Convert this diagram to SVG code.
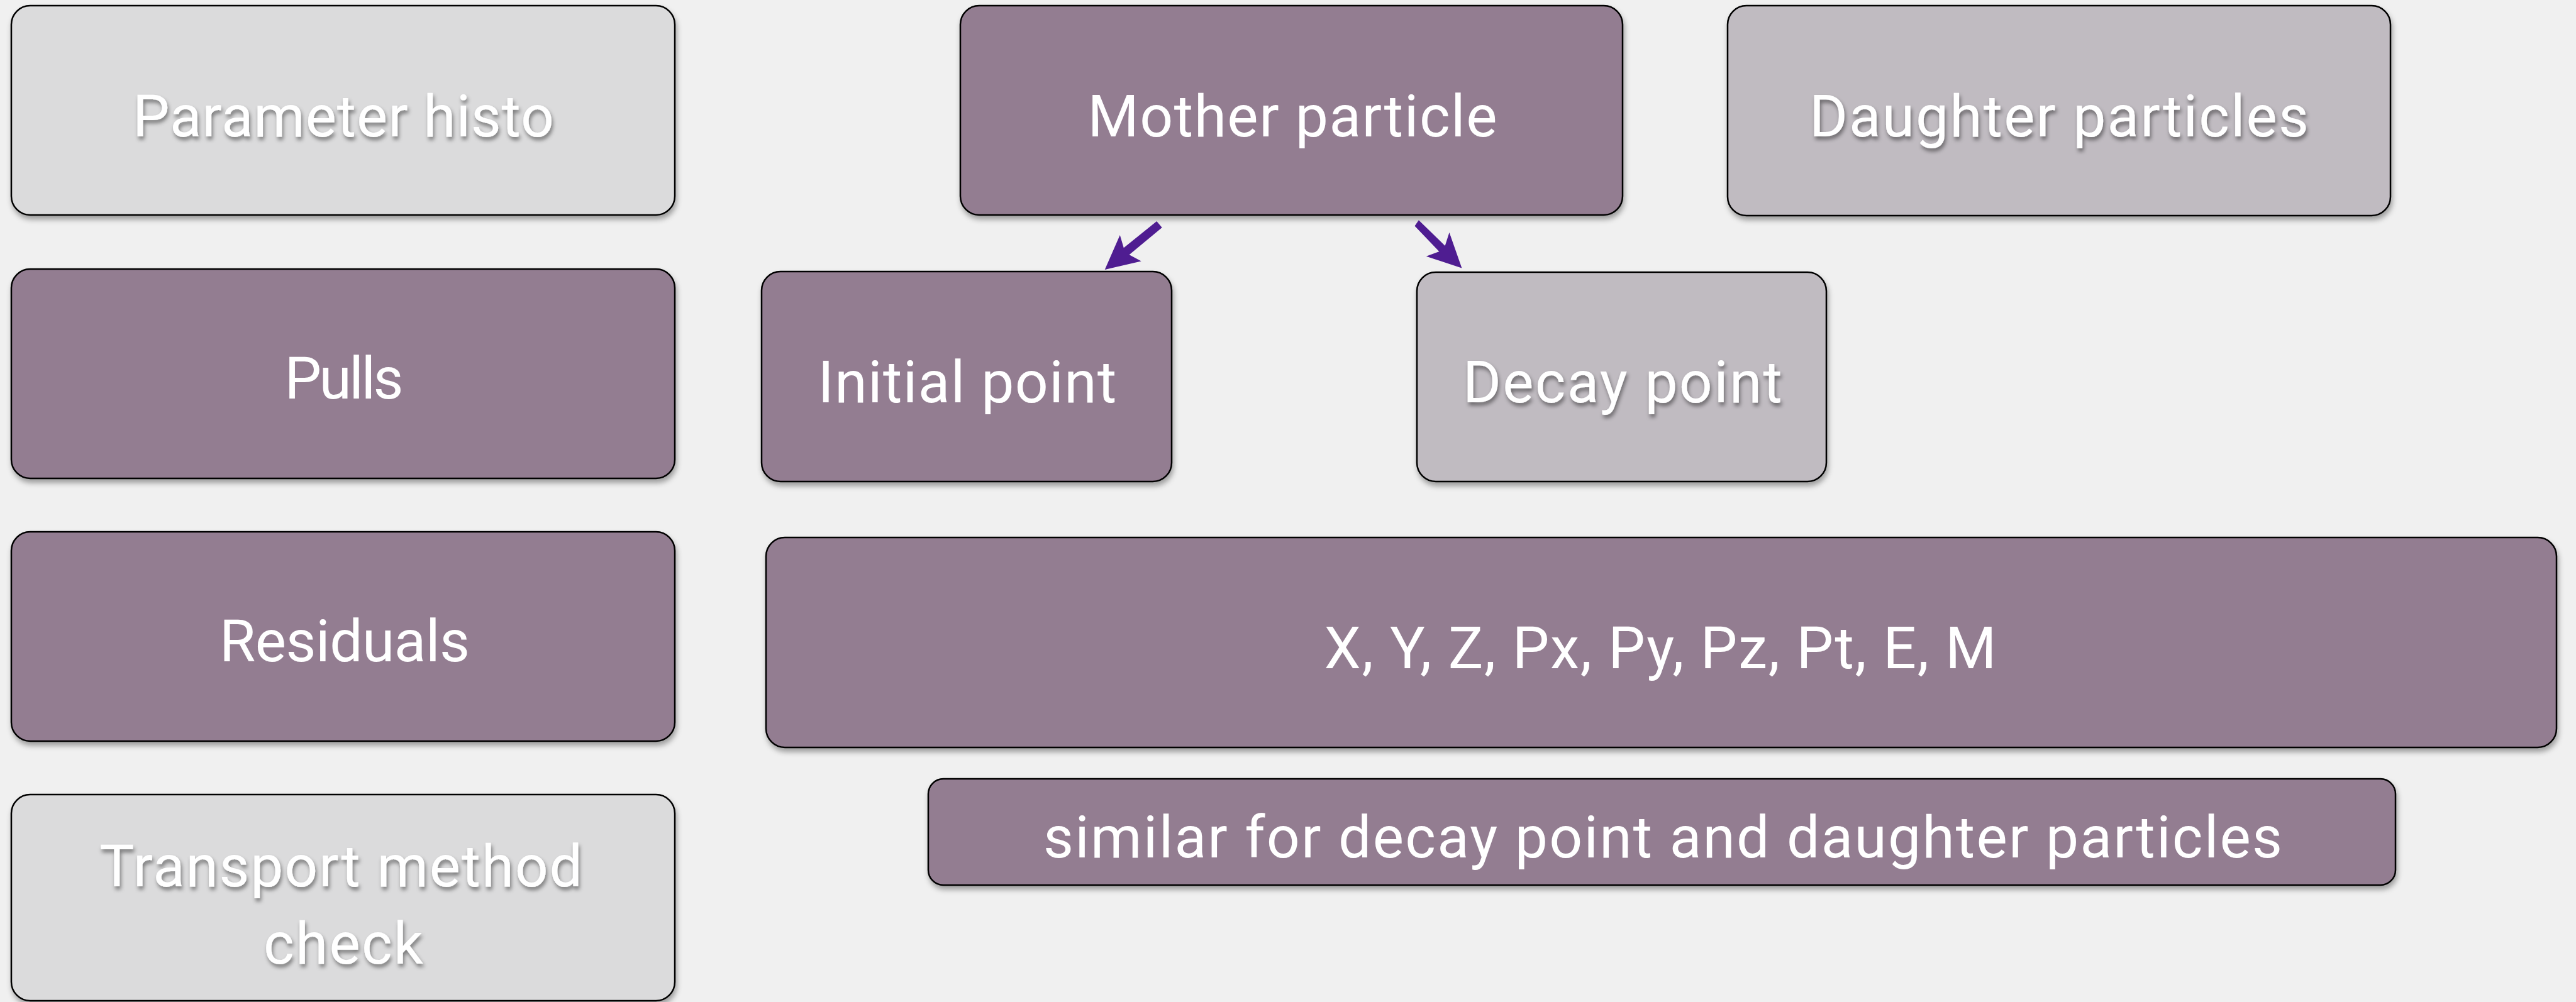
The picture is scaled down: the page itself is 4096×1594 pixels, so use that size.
<svg xmlns="http://www.w3.org/2000/svg" width="4096" height="1594" viewBox="0 0 4096 1594">
<defs>
<filter id="boxShadow" x="-5%" y="-10%" width="110%" height="125%">
<feDropShadow dx="2" dy="6" stdDeviation="4" flood-color="#000" flood-opacity="0.35"/>
</filter>
<filter id="textShadow" x="-5%" y="-20%" width="110%" height="150%">
<feDropShadow dx="2" dy="5" stdDeviation="3" flood-color="#000" flood-opacity="0.45"/>
</filter>
</defs>
<style>
.box{stroke:#000;stroke-width:2.5;filter:url(#boxShadow)}
.purple{fill:#937d91}
.light{fill:#dbdbdc}
.mid{fill:#c0bbc1}
.lbl{font-family:Roboto,"Liberation Sans",Arial,sans-serif;font-size:93px;fill:#fff;text-anchor:middle}
.sh{filter:url(#textShadow)}
.arrow{fill:#4f1d91}
</style>
<rect width="4096" height="1594" fill="#f0f0f0"/>

<g id="node-parameter-histo">
<rect class="box light" x="18" y="9" width="1055" height="333" rx="30" ry="30"/>
<text class="lbl sh" x="546" y="217" textLength="670" lengthAdjust="spacing">Parameter histo</text>
</g>
<g id="node-pulls">
<rect class="box purple" x="18" y="428" width="1055" height="333" rx="30" ry="30"/>
<text class="lbl" x="547" y="634" textLength="189" lengthAdjust="spacing">Pulls</text>
</g>
<g id="node-residuals">
<rect class="box purple" x="18" y="846" width="1055" height="333" rx="30" ry="30"/>
<text class="lbl" x="548" y="1052" textLength="398" lengthAdjust="spacing">Residuals</text>
</g>
<g id="node-transport">
<rect class="box light" x="18" y="1264" width="1055" height="328" rx="30" ry="30"/>
<text class="lbl sh" x="542" y="1410" textLength="768" lengthAdjust="spacing">Transport method</text>
<text class="lbl sh" x="546" y="1533" textLength="254" lengthAdjust="spacing">check</text>
</g>
<g id="node-mother">
<rect class="box purple" x="1527" y="9" width="1053" height="333" rx="30" ry="30"/>
<text class="lbl" x="2055" y="217" textLength="651" lengthAdjust="spacing">Mother particle</text>
</g>
<g id="node-daughter">
<rect class="box mid" x="2747" y="9" width="1054" height="334" rx="30" ry="30"/>
<text class="lbl sh" x="3274" y="217" textLength="794" lengthAdjust="spacing">Daughter particles</text>
</g>
<g id="node-initial">
<rect class="box purple" x="1211" y="432" width="652" height="334" rx="30" ry="30"/>
<text class="lbl" x="1538" y="640" textLength="475" lengthAdjust="spacing">Initial point</text>
</g>
<g id="node-decay">
<rect class="box mid" x="2253" y="433" width="651" height="333" rx="30" ry="30"/>
<text class="lbl sh" x="2580" y="640" textLength="508" lengthAdjust="spacing">Decay point</text>
</g>
<g id="node-xyz">
<rect class="box purple" x="1218" y="855" width="2847" height="334" rx="30" ry="30"/>
<text class="lbl" x="2640" y="1063" textLength="1069" lengthAdjust="spacing">X, Y, Z, Px, Py, Pz, Pt, E, M</text>
</g>
<g id="node-similar">
<rect class="box purple" x="1476" y="1239" width="2333" height="169" rx="24" ry="24"/>
<text class="lbl" x="2644" y="1364" textLength="1970" lengthAdjust="spacing">similar for decay point and daughter particles</text>
</g>

<g id="connectors">
<polygon class="arrow" points="1839.2,351.9 1847.7,362.1 1795.6,405.2 1814.7,415.4 1756.7,428.9 1780.8,373.9 1786.8,394.2"/>
<polygon class="arrow" points="2255.9,350.2 2297.7,390.9 2304.5,369.7 2324.4,426.4 2267.7,407.8 2288.4,400.2 2249.5,359.6"/>
</g>
</svg>
